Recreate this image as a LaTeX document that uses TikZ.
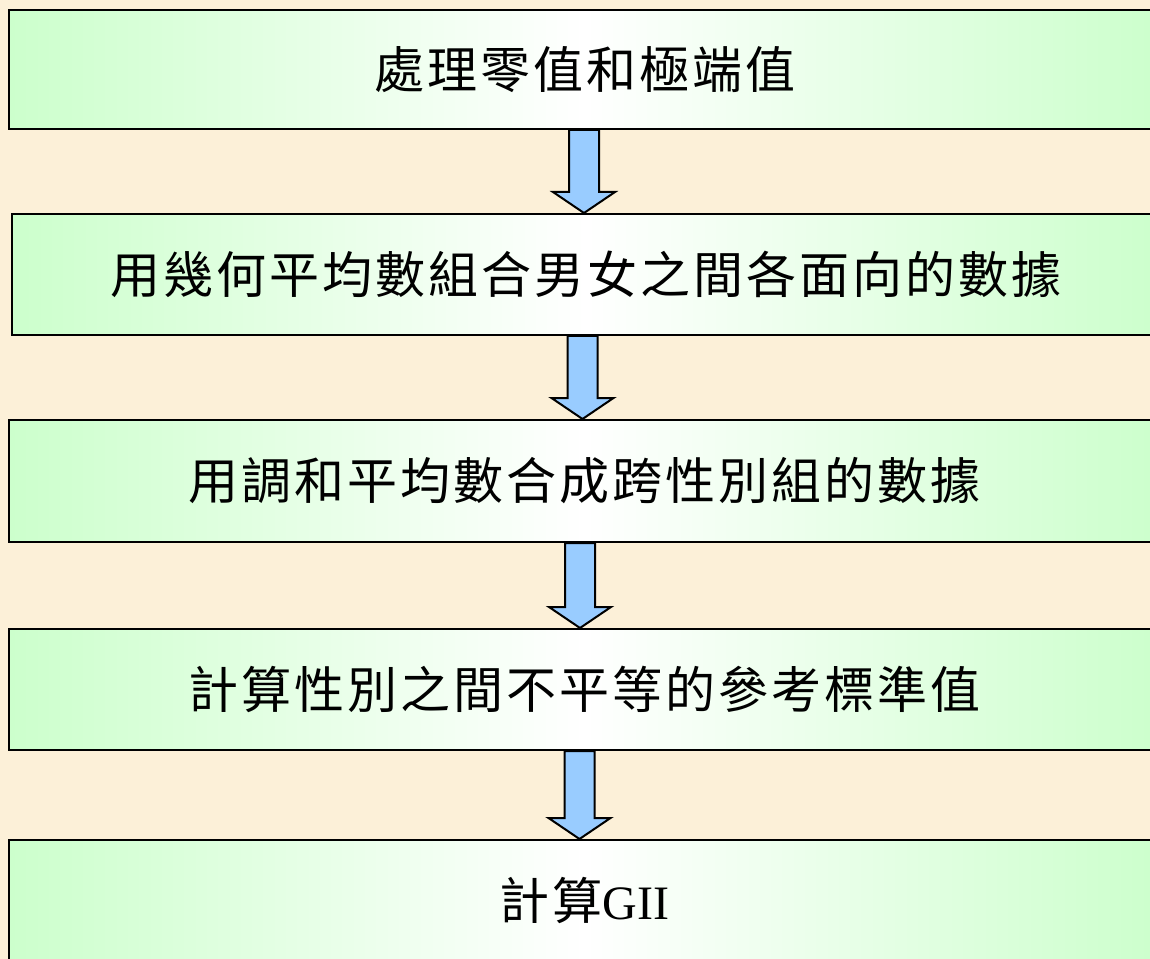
\documentclass[tikz,border=0pt]{standalone}
\usepackage{fontspec}
\usetikzlibrary{calc}

\newfontfamily\cjk{Noto Sans CJK TC}[LetterSpace=6]
\newfontfamily\latinserif{Liberation Serif}

\definecolor{parchment}{HTML}{FCF0D8}
\definecolor{boxgreen}{HTML}{CCFFCC}
\definecolor{arrowblue}{HTML}{99CCFF}

\tikzset{
    stepbox/.style={draw=black, line width=1.5pt, left color=boxgreen, right color=boxgreen,
        middle color=white, minimum width=1151*0.75pt, minimum height=121*0.75pt,
        inner sep=0pt, font=\cjk\fontsize{37.5}{45}\selectfont},
    arrowbody/.style={draw=black, fill=arrowblue, line width=1.5pt, line join=miter}
}

% block arrow from the bottom of #1 to the top of #2, at x = #3
\newcommand{\flowarrow}[3]{%
    \coordinate (top) at (#3,0 |- #1.south);
    \coordinate (tip) at (#3,0 |- #2.north);
    \draw[arrowbody] ($(top)+(-15,0)$) -- ($(tip)+(-15,-21)$) -- ($(tip)+(-31,-21)$)
        -- (tip) -- ($(tip)+(31,-21)$) -- ($(tip)+(15,-21)$) -- ($(top)+(15,0)$) -- cycle;
}

\begin{document}
\begin{tikzpicture}[x=0.75pt, y=-0.75pt]

    \useasboundingbox (0,0) rectangle (1150,959);
    \clip (0,0) rectangle (1150,959);
    \fill[parchment] (0,0) rectangle (1150,959);

    \node[stepbox, minimum height=119*0.75pt] (s1) at (584.5,69.5) {處理零值和極端值};
    \node[stepbox, minimum width=1148*0.75pt] (s2) at (586,274.5) {用幾何平均數組合男女之間各面向的數據};
    \node[stepbox, minimum height=122*0.75pt] (s3) at (584.5,481) {用調和平均數合成跨性別組的數據};
    \node[stepbox] (s4) at (584.5,689.5) {計算性別之間不平等的參考標準值};
    \node[stepbox, minimum height=120*0.75pt] (s5) at (584.5,900)
        {計算{\latinserif\fontsize{36}{42}\selectfont GII}};

    \flowarrow{s1}{s2}{584}
    \flowarrow{s2}{s3}{582.5}
    \flowarrow{s3}{s4}{580}
    \flowarrow{s4}{s5}{579.5}

\end{tikzpicture}
\end{document}
